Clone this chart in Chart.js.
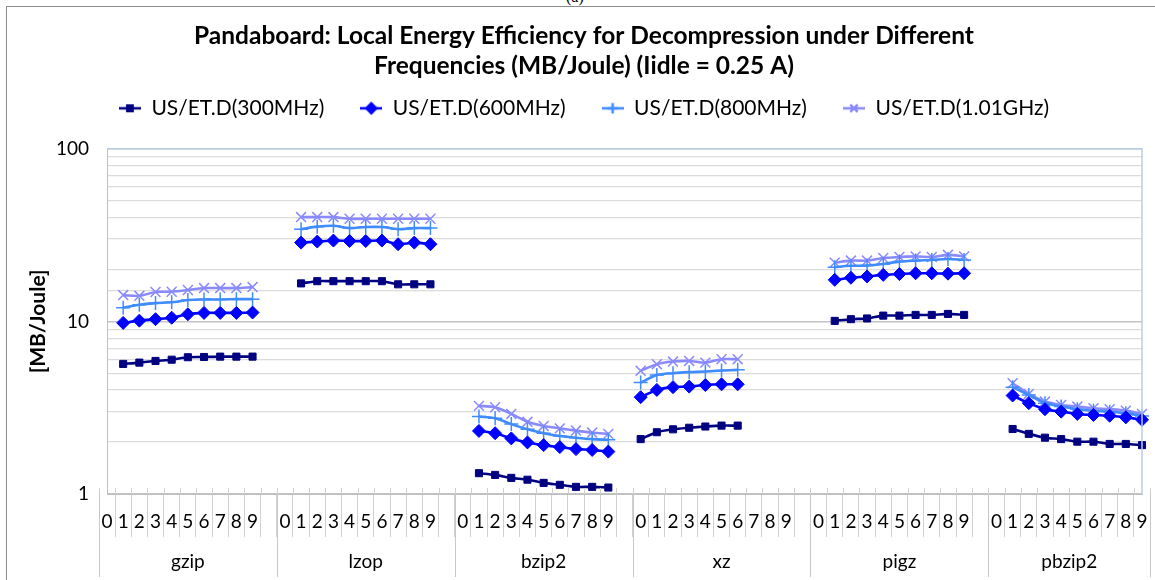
<!DOCTYPE html>
<html>
<head>
<meta charset="utf-8">
<script src="https://cdn.jsdelivr.net/npm/chart.js@4/dist/chart.umd.min.js"></script>
<style>
  html, body { margin: 0; padding: 0; background: #fff; }
  #wrap { position: relative; width: 1155px; height: 580px; overflow: hidden; }
  #frame { position: absolute; left: 6px; top: 6px; width: 1200px; height: 600px;
           border-left: 1px solid #8c8c8c; border-top: 1px solid #8c8c8c; }
  #cap { position: absolute; left: 566px; top: -12px; font: 16px "Liberation Serif", serif; color: #000; }
  canvas { position: absolute; left: 0; top: 0; }
</style>
</head>
<body>
<div id="wrap">
  <div id="frame"></div>
  <div id="cap">(a)</div>
  <canvas id="grafico" width="1155" height="580"></canvas>
</div>
<script>
// ferramentas e niveis de compressao
const ferramentas = ['gzip', 'lzop', 'bzip2', 'xz', 'pigz', 'pbzip2'];
const niveis = ['0', '1', '2', '3', '4', '5', '6', '7', '8', '9'];
const tituloLinhas = ['Pandaboard: Local Energy Efficiency for Decompression under Different',
                      'Frequencies (MB/Joule) (Iidle = 0.25 A)'];
const nomesSeries = ['US/ET.D(300MHz)', 'US/ET.D(600MHz)', 'US/ET.D(800MHz)', 'US/ET.D(1.01GHz)'];
const yTicks = [1, 10, 100];

// valores por ferramenta, niveis 0..9 (null = sem dado)
const mhz300 = [
    [null, 5.67, 5.77, 5.9, 6.0, 6.2, 6.22, 6.25, 6.25, 6.25],
    [null, 16.6, 17.1, 17.1, 17.1, 17.1, 17.1, 16.4, 16.4, 16.4],
    [null, 1.32, 1.29, 1.24, 1.21, 1.16, 1.13, 1.10, 1.10, 1.09],
    [2.08, 2.28, 2.37, 2.42, 2.46, 2.49, 2.49, null, null, null],
    [null, 10.07, 10.3, 10.4, 10.8, 10.8, 10.9, 10.9, 11.05, 10.9],
    [null, 2.38, 2.23, 2.12, 2.08, 2.01, 2.01, 1.95, 1.95, 1.92]
];
const mhz600 = [
    [null, 9.8, 10.1, 10.3, 10.5, 11.0, 11.2, 11.2, 11.2, 11.25],
    [null, 28.6, 29.0, 29.4, 29.2, 29.2, 29.4, 28.0, 28.6, 28.0],
    [null, 2.32, 2.25, 2.10, 1.99, 1.92, 1.87, 1.82, 1.80, 1.76],
    [3.64, 4.01, 4.16, 4.19, 4.28, 4.32, 4.32, null, null, null],
    [null, 17.4, 17.9, 18.2, 18.6, 18.8, 19.0, 19.0, 18.9, 19.0],
    [null, 3.72, 3.36, 3.10, 3.0, 2.91, 2.87, 2.84, 2.78, 2.69]
];
const mhz800 = [
    [null, 12.0, 12.5, 12.76, 12.9, 13.3, 13.4, 13.4, 13.45, 13.45],
    [null, 34.2, 35.4, 35.8, 34.7, 35.2, 35.2, 34.2, 34.7, 34.7],
    [null, 2.81, 2.75, 2.54, 2.37, 2.25, 2.17, 2.12, 2.08, 2.06],
    [4.42, 4.89, 5.01, 5.08, 5.12, 5.19, 5.24, null, null, null],
    [null, 20.6, 21.0, 21.05, 21.5, 22.2, 22.5, 22.7, 23.0, 22.7],
    [null, 4.16, 3.75, 3.36, 3.21, 3.10, 3.04, 3.0, 2.94, 2.83]
];
const ghz101 = [
    [null, 14.2, 14.06, 14.8, 14.85, 15.2, 15.6, 15.6, 15.6, 15.8],
    [null, 40.2, 40.2, 40.2, 39.3, 39.3, 39.3, 39.3, 39.3, 39.3],
    [null, 3.24, 3.18, 2.91, 2.62, 2.48, 2.40, 2.33, 2.27, 2.23],
    [5.17, 5.65, 5.85, 5.9, 5.77, 6.04, 6.04, null, null, null],
    [null, 21.9, 22.5, 22.5, 23.3, 23.6, 23.8, 23.6, 24.3, 23.8],
    [null, 4.38, 3.80, 3.43, 3.28, 3.21, 3.14, 3.10, 3.04, 2.91]
];

const cores = ['#000080', '#0000ff', '#3f8cff', '#8a8aff'];
const marcadores = ['rect', 'rectRot', 'cross', 'crossRot'];
const raios = [5, 6.5, 7, 7];

// uma categoria vazia entre as ferramentas
const rotulosX = [];
ferramentas.forEach((f, i) => {
    niveis.forEach(n => rotulosX.push(n));
    if (i < ferramentas.length - 1) rotulosX.push('');
});

function montaSerie(tabela) {
    const out = [];
    tabela.forEach((linha, i) => {
        linha.forEach(v => out.push(v));
        if (i < tabela.length - 1) out.push(null);
    });
    return out;
}

function iconeLegenda(cor, estilo, raio) {
    const c = document.createElement('canvas');
    c.width = 22; c.height = 16;
    const g = c.getContext('2d');
    g.strokeStyle = cor; g.lineWidth = 2.5;
    g.beginPath(); g.moveTo(0, 8); g.lineTo(22, 8); g.stroke();
    g.fillStyle = cor; g.strokeStyle = cor;
    Chart.helpers.drawPoint(g, {pointStyle: estilo, radius: raio * 0.75, borderWidth: 2}, 11, 8);
    return c;
}

const tabelas = [mhz300, mhz600, mhz800, ghz101];
const datasets = tabelas.map((t, i) => ({
    label: nomesSeries[i],
    data: montaSerie(t),
    borderColor: cores[i],
    backgroundColor: cores[i],
    borderWidth: 2.6,
    pointStyle: marcadores[i],
    pointRadius: raios[i],
    pointBorderWidth: i >= 2 ? 1.5 : 1,
    tension: 0.3,
    spanGaps: false
}));

const gruposPlugin = {
    id: 'grupos',
    beforeLayout(chart) {
        // espaco extra abaixo da legenda
        const leg = chart.legend;
        if (leg && !leg._ajustada) {
            const fitOrig = leg.fit;
            leg.fit = function () { fitOrig.call(this); this.height += 20; };
            leg._ajustada = true;
        }
    },
    afterDraw(chart) {
        const ctx = chart.ctx;
        const x = chart.scales.x;
        const area = chart.chartArea;
        const passo = x.getPixelForValue(1) - x.getPixelForValue(0);
        ctx.save();
        // borda superior e direita da area do grafico
        ctx.strokeStyle = '#b9cde5';
        ctx.lineWidth = 1.5;
        ctx.beginPath();
        ctx.moveTo(area.left, area.top);
        ctx.lineTo(area.right, area.top);
        ctx.lineTo(area.right, area.bottom);
        ctx.stroke();
        // marcas curtas acima do eixo
        ctx.strokeStyle = '#d0d0d0';
        ctx.lineWidth = 1;
        for (let i = 0; i <= rotulosX.length; i++) {
            const px = Math.round(x.getPixelForValue(0) - passo / 2 + i * passo) + 0.5;
            ctx.beginPath(); ctx.moveTo(px, area.bottom - 6); ctx.lineTo(px, area.bottom); ctx.stroke();
        }
        // separadores e nomes das ferramentas
        ctx.font = '19px Lato';
        ctx.fillStyle = '#000';
        ctx.textAlign = 'center';
        ctx.textBaseline = 'middle';
        let inicio = 0;
        ferramentas.forEach((f, i) => {
            const fim = inicio + (i < ferramentas.length - 1 ? 11 : 10);
            const x0 = x.getPixelForValue(inicio) - passo / 2;
            const x1 = x.getPixelForValue(fim - 1) + passo / 2;
            ctx.strokeStyle = '#c8c8c8';
            [x0, x1].forEach(p => {
                const px = Math.round(p) + 0.5;
                ctx.beginPath(); ctx.moveTo(px, area.bottom); ctx.lineTo(px, area.bottom + 83); ctx.stroke();
            });
            ctx.fillText(f, (x0 + x1) / 2, area.bottom + 68);
            inicio = fim;
        });
        ctx.restore();
    }
};

new Chart(document.getElementById('grafico').getContext('2d'), {
    type: 'line',
    data: { labels: rotulosX, datasets: datasets },
    plugins: [gruposPlugin],
    options: {
        responsive: false,
        animation: false,
        layout: { padding: { left: 26, right: 13, top: 0, bottom: 0 } },
        plugins: {
            title: {
                display: true,
                text: tituloLinhas,
                color: '#000',
                font: { family: 'Lato', size: 24.5, weight: 'bold', lineHeight: 1.22 },
                padding: { top: 21, bottom: -19 }
            },
            legend: {
                position: 'top',
                labels: {
                    color: '#000',
                    font: { family: 'Lato', size: 21 },
                    usePointStyle: true,
                    pointStyleWidth: 22,
                    padding: 36,
                    generateLabels(chart) {
                        return chart.data.datasets.map((d, i) => ({
                            text: d.label,
                            fillStyle: cores[i],
                            strokeStyle: cores[i],
                            lineWidth: 0,
                            pointStyle: iconeLegenda(cores[i], marcadores[i], raios[i]),
                            datasetIndex: i,
                            hidden: false,
                            fontColor: '#000'
                        }));
                    }
                }
            },
            tooltip: { enabled: false }
        },
        scales: {
            x: {
                type: 'category',
                grid: { drawOnChartArea: false, drawTicks: true, tickLength: 43, offset: true, color: '#d0d0d0' },
                border: { color: '#bfbfbf' },
                ticks: {
                    autoSkip: false, maxRotation: 0, minRotation: 0,
                    padding: -27,
                    color: '#000',
                    font: { family: 'Lato', size: 19 }
                },
                afterFit(s) { s.height = 86; }
            },
            y: {
                type: 'logarithmic',
                min: 1, max: 100,
                grid: {
                    drawTicks: false,
                    color: c => yTicks.includes(c.tick && c.tick.value) ? '#c4c4c4' : '#dcdcdc',
                    lineWidth: c => yTicks.includes(c.tick && c.tick.value) ? 1.6 : 1.2
                },
                border: { color: '#bfbfbf' },
                ticks: {
                    autoSkip: false,
                    padding: 18,
                    color: '#000',
                    font: { family: 'Lato', size: 19 },
                    callback: v => yTicks.includes(v) ? String(v) : ''
                },
                title: {
                    display: true,
                    text: '[MB/Joule]',
                    color: '#000',
                    font: { family: 'Lato', size: 21, weight: 'bold' },
                    padding: { top: 0, bottom: 0 }
                },
                afterFit(s) { s.width = 81; }
            }
        }
    }
});
</script>
</body>
</html>
